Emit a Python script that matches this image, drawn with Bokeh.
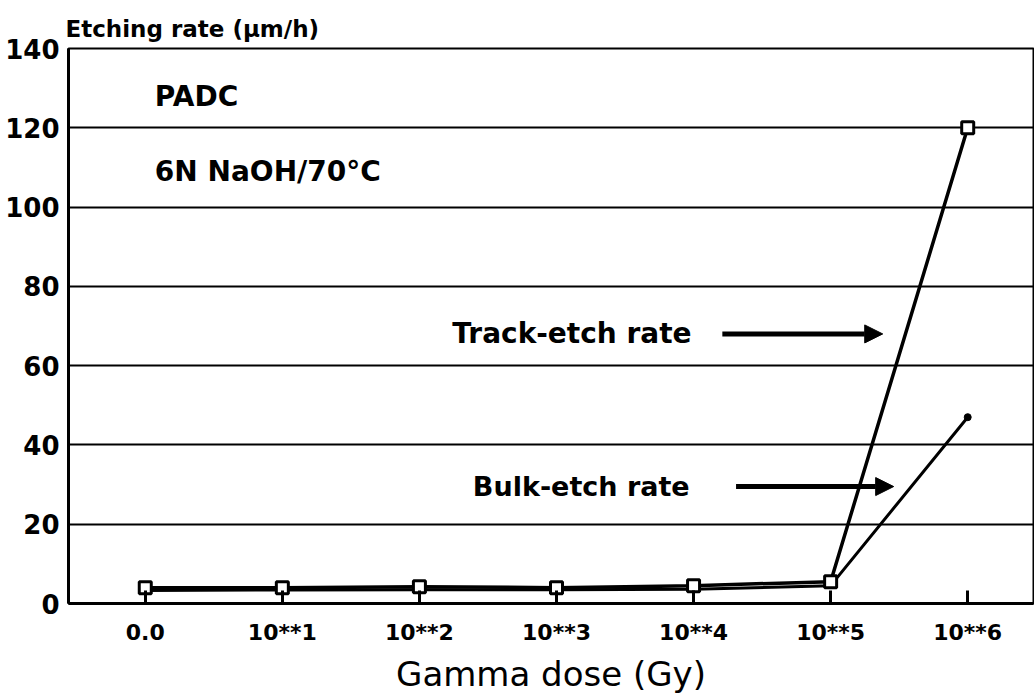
from bokeh.plotting import figure
from bokeh.models import Range1d, FixedTicker, Arrow, NormalHead, Label
from bokeh.embed import file_html
from bokeh.resources import INLINE

# ---- data ----
dose_labels = ["0.0", "10**1", "10**2", "10**3", "10**4", "10**5", "10**6"]
dose_pos = [0, 1, 2, 3, 4, 5, 6]
track_etch = [4.0, 4.0, 4.2, 4.0, 4.5, 5.5, 120.0]
bulk_etch = [3.3, 3.4, 3.5, 3.5, 3.6, 4.5, 47.0]
y_ticks = [0, 20, 40, 60, 80, 100, 120, 140]

FONT = "DejaVu Sans"

p = figure(width=1034, height=700, output_backend="svg", toolbar_location=None,
           x_range=Range1d(-0.56, 6.48), y_range=Range1d(0, 140),
           min_border_left=68, min_border_right=1, min_border_top=48, min_border_bottom=97)

p.title.text = "Etching rate (µm/h)"
p.title.text_font = FONT
p.title.text_font_size = "23px"
p.title.text_font_style = "bold"
p.title.text_color = "black"
p.title.align = "left"
p.title.offset = -3
p.title.standoff = 14

p.outline_line_color = "black"
p.outline_line_width = 2
p.background_fill_color = "white"
p.border_fill_color = "white"

# grid
p.xgrid.visible = False
p.ygrid.ticker = FixedTicker(ticks=y_ticks)
p.ygrid.grid_line_color = "black"
p.ygrid.grid_line_width = 2
p.ygrid.grid_line_alpha = 1.0

# x axis
p.xaxis.ticker = FixedTicker(ticks=dose_pos)
p.xaxis.major_label_overrides = {pos: lab for pos, lab in zip(dose_pos, dose_labels)}
p.xaxis.axis_line_width = 3
p.xaxis.major_tick_in = 13
p.xaxis.major_tick_out = 0
p.xaxis.major_tick_line_width = 3
p.xaxis.minor_tick_line_color = None
p.xaxis.major_label_text_font = FONT
p.xaxis.major_label_text_font_size = "22px"
p.xaxis.major_label_text_font_style = "bold"
p.xaxis.major_label_text_color = "black"
p.xaxis.major_label_standoff = 16
p.xaxis.axis_label = "Gamma dose (Gy)"
p.xaxis.axis_label_text_font = FONT
p.xaxis.axis_label_text_font_size = "34px"
p.xaxis.axis_label_text_font_style = "normal"
p.xaxis.axis_label_text_color = "black"
p.xaxis.axis_label_standoff = 6

# y axis
p.yaxis.ticker = FixedTicker(ticks=y_ticks)
p.yaxis.axis_line_width = 3
p.yaxis.major_tick_in = 0
p.yaxis.major_tick_out = 0
p.yaxis.minor_tick_line_color = None
p.yaxis.major_label_text_font = FONT
p.yaxis.major_label_text_font_size = "26px"
p.yaxis.major_label_text_font_style = "bold"
p.yaxis.major_label_text_color = "black"
p.yaxis.major_label_standoff = 9

# series
p.line(dose_pos, bulk_etch, line_color="black", line_width=3)
p.line(dose_pos, track_etch, line_color="black", line_width=3.5)
p.scatter(dose_pos[-1:], bulk_etch[-1:], marker="circle", size=7, color="black")
p.scatter(dose_pos, track_etch, marker="square", size=12, fill_color="white",
          line_color="black", line_width=3)

# annotations
def lab(x, y, text, size):
    p.add_layout(Label(x=x, y=y, text=text, text_font=FONT,
                       text_font_size=size, text_font_style="bold",
                       text_baseline="middle", text_align="left", text_color="black"))

lab(0.07, 128, "PADC", "28px")
lab(0.07, 109, "6N NaOH/70°C", "28px")
lab(2.24, 68, "Track-etch rate", "28px")
lab(2.39, 29.5, "Bulk-etch rate", "27px")

for (x0, x1, y) in [(4.21, 5.38, 68), (4.31, 5.46, 29.5)]:
    p.add_layout(Arrow(x_start=x0, y_start=y, x_end=x1, y_end=y, line_width=5,
                       line_color="black",
                       end=NormalHead(size=18, fill_color="black", line_color="black")))

open("out.html", "w").write(file_html(p, INLINE))
